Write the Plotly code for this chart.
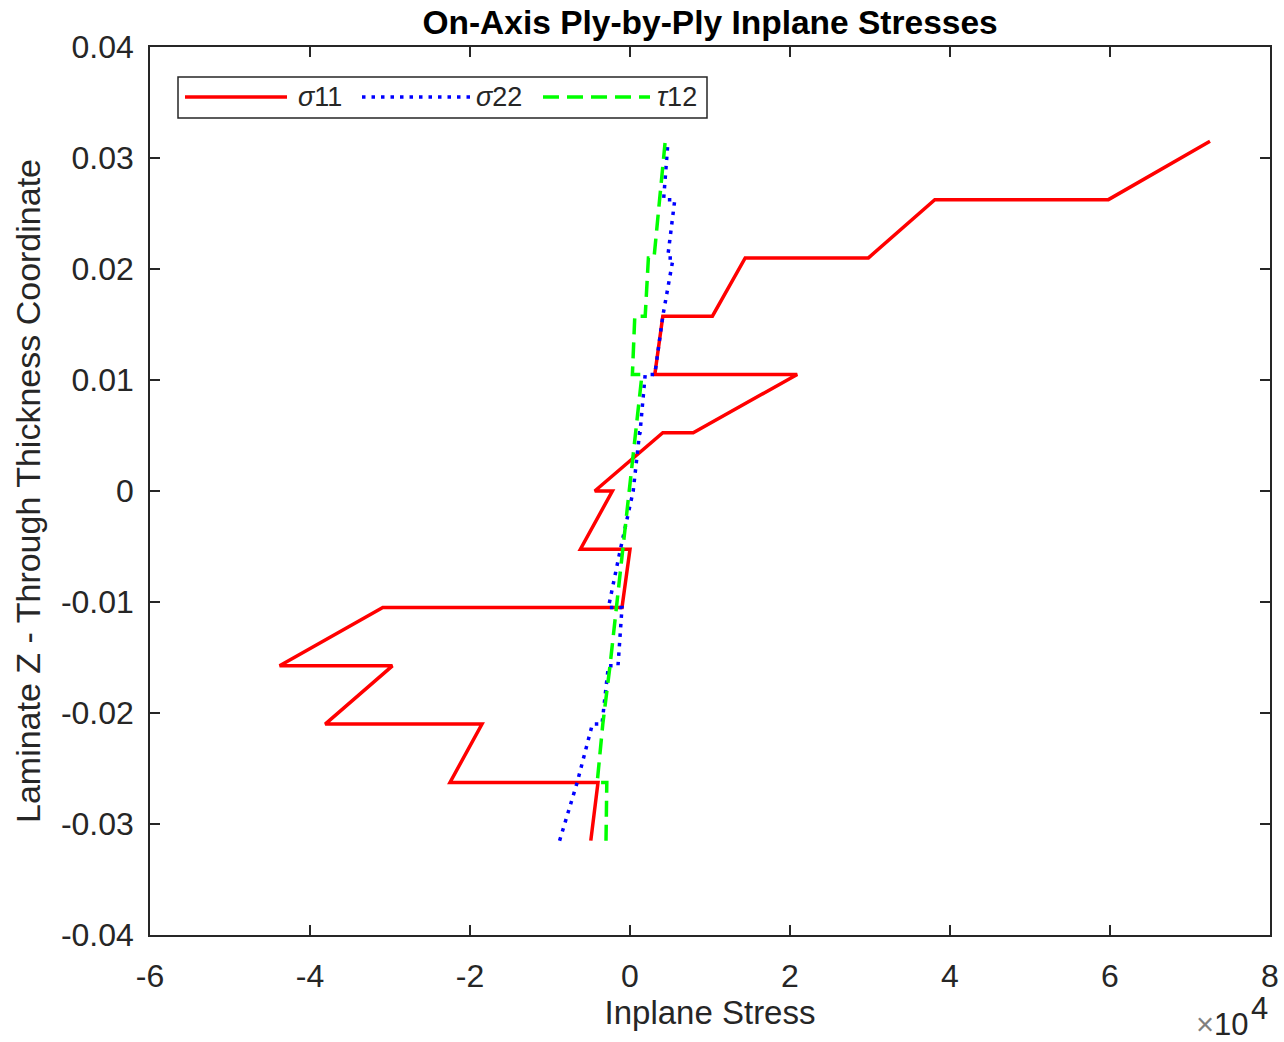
import plotly.graph_objects as go

# Ply interface coordinates (through-thickness z), bottom to top
z_interfaces = [-0.0315, -0.02625, -0.021, -0.01575, -0.0105, -0.00525, 0.0,
                0.00525, 0.0105, 0.01575, 0.021, 0.02625, 0.0315]

# On-axis stresses at bottom and top of each ply (12 plies, bottom to top)
sigma11_bottom = [-4900, -22500, -38100, -43800, -1000, -6200, -4400, 7900, 3100, 10300, 29800, 59800]
sigma11_top = [-4000, -18500, -29700, -30900, 0, -2200, 4100, 20900, 4100, 14400, 38100, 72500]

sigma22_bottom = [-8800, -6600, -3500, -1500, -2700, -1200, 400, 1250, 3100, 4100, 4700, 4200]
sigma22_top = [-6600, -4700, -2700, -1000, -1200, 400, 1200, 1900, 4100, 5400, 5600, 4750]

tau12_bottom = [-3000, -4100, -3400, -2500, -1700, -900, -100, 700, 300, 1900, 3000, 3750]
tau12_top = [-2900, -3400, -2500, -1700, -900, -100, 700, 1500, 600, 2300, 3750, 4400]

x_tick_vals = [-60000, -40000, -20000, 0, 20000, 40000, 60000, 80000]
x_tick_text = ["-6", "-4", "-2", "0", "2", "4", "6", "8"]
y_tick_vals = [-0.04, -0.03, -0.02, -0.01, 0.0, 0.01, 0.02, 0.03, 0.04]
y_tick_text = ["-0.04", "-0.03", "-0.02", "-0.01", "0", "0.01", "0.02", "0.03", "0.04"]

series_names = ["<i>σ</i>11", "<i>σ</i>22", "<i>τ</i>12"]


def ply_path(bottom, top):
    xs, ys = [], []
    for k in range(len(bottom)):
        xs += [bottom[k], top[k]]
        ys += [z_interfaces[k], z_interfaces[k + 1]]
    return xs, ys


FONT = "Liberation Sans, Arial, Helvetica, sans-serif"
AX = "#262626"
RED, BLUE, GREEN = "#FF0000", "#0000FF", "#00FF00"
DOT = "3.5px,6px"
DASH = "16px,8px"

fig = go.Figure()
for (b, t), name, color, dash in zip(
    [(sigma11_bottom, sigma11_top), (sigma22_bottom, sigma22_top), (tau12_bottom, tau12_top)],
    series_names, [RED, BLUE, GREEN], ["solid", DOT, DASH]):
    xs, ys = ply_path(b, t)
    fig.add_trace(go.Scatter(x=xs, y=ys, mode="lines", name=name,
                             line=dict(color=color, width=3.5, dash=dash),
                             showlegend=False))

fig.update_layout(
    width=1284, height=1042,
    margin=dict(l=150, r=14, t=47, b=107, autoexpand=False),
    paper_bgcolor="white", plot_bgcolor="white",
    font=dict(family=FONT, color=AX, size=32),
    title=dict(text="<b>On-Axis Ply-by-Ply Inplane Stresses</b>", x=0.553, xanchor="center",
               y=1 - 22 / 1042, yanchor="middle", yref="container",
               font=dict(size=33.5, color="#000000", family=FONT)),
)

fig.update_xaxes(range=[-60000, 80000], tickvals=x_tick_vals, ticktext=x_tick_text,
                 showgrid=False, zeroline=False, showline=True, linecolor=AX, linewidth=1.5,
                 mirror="ticks", ticks="inside", ticklen=10, tickwidth=1.5, tickcolor=AX,
                 ticklabelstandoff=12, automargin=False,
                 title=dict(text="Inplane Stress", font=dict(size=33, color=AX), standoff=6))
fig.update_yaxes(range=[-0.04, 0.04], tickvals=y_tick_vals, ticktext=y_tick_text,
                 showgrid=False, zeroline=False, showline=True, linecolor=AX, linewidth=1.5,
                 mirror="ticks", ticks="inside", ticklen=10, tickwidth=1.5, tickcolor=AX,
                 ticklabelstandoff=8, automargin=False,
                 title=dict(text="Laminate Z - Through Thickness Coordinate",
                            font=dict(size=34, color=AX), standoff=10))


def px(xp):
    return (xp - 150) / 1120


def py(yp):
    return (935 - yp) / 888


# exponent label (×10 with raised 4, MATLAB style)
fig.add_annotation(text="<span style='color:#808080'>×</span>10", xref="paper", yref="paper",
                   x=px(1251), y=py(1044), xanchor="right", yanchor="bottom", showarrow=False,
                   font=dict(size=31, color=AX, family=FONT))
fig.add_annotation(text="4", xref="paper", yref="paper", x=px(1249), y=py(1028),
                   xanchor="left", yanchor="bottom", showarrow=False,
                   font=dict(size=31, color=AX, family=FONT))

# custom legend (MATLAB style, long line samples)
fig.add_shape(type="rect", xref="paper", yref="paper", x0=px(178), x1=px(707), y0=py(118), y1=py(77),
              line=dict(color=AX, width=1.5), fillcolor="white", layer="above")
legend_items = [(185, 287, 296, RED, "solid"), (362, 470, 474, BLUE, DOT), (543, 650, 655, GREEN, DASH)]
for (x0, x1, xt, color, dash), name in zip(legend_items, series_names):
    fig.add_shape(type="line", xref="paper", yref="paper", x0=px(x0), x1=px(x1), y0=py(97), y1=py(97),
                  line=dict(color=color, width=3.5, dash=dash), layer="above")
    fig.add_annotation(text=name, xref="paper", yref="paper", x=px(xt), y=py(97),
                       xanchor="left", yanchor="middle", showarrow=False,
                       font=dict(size=27, color=AX, family=FONT))

fig.write_html("out.html", config={"displayModeBar": False},
               post_script="document.body.style.margin='0';document.documentElement.style.overflow='hidden';")
